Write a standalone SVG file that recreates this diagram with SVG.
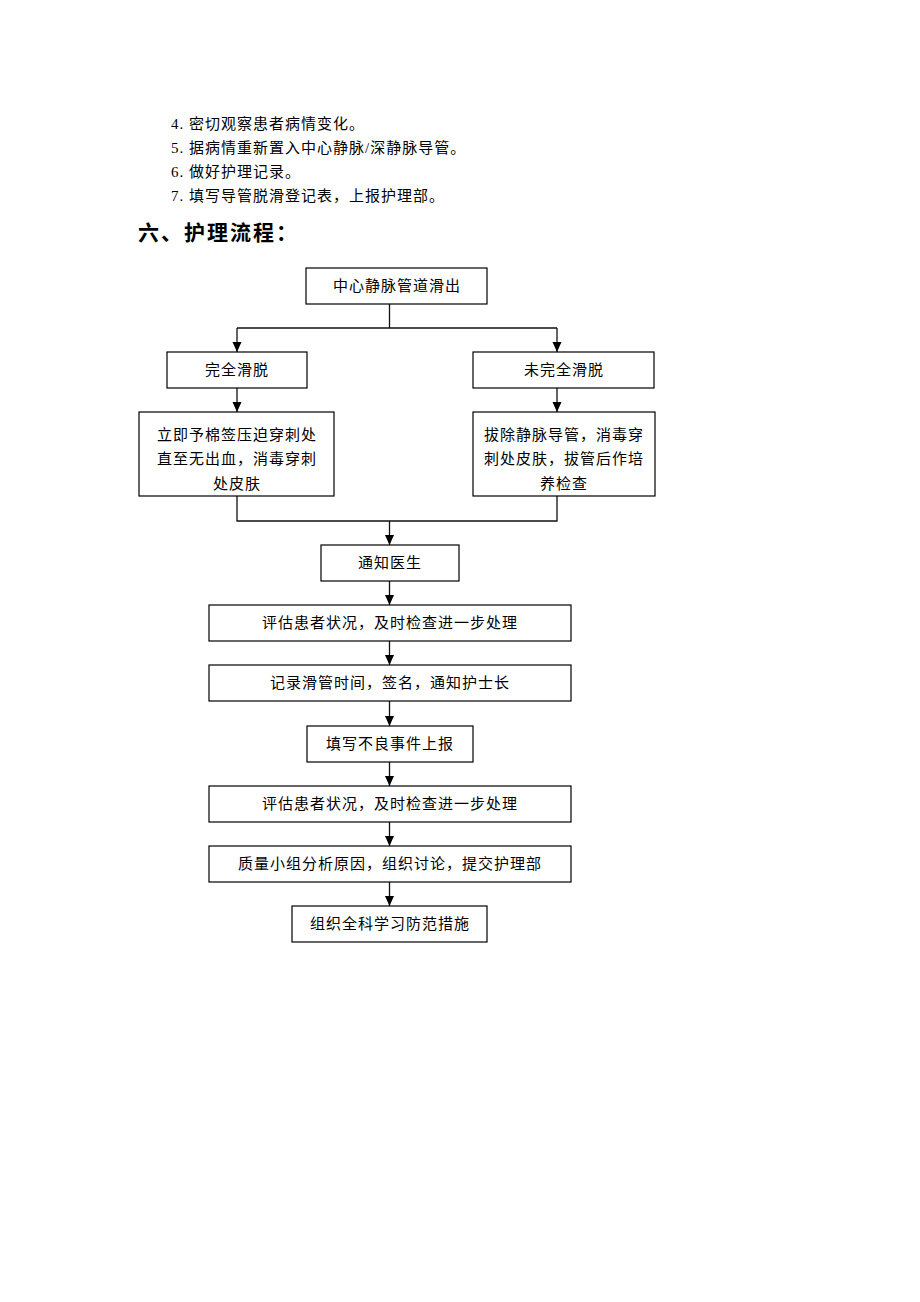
<svg xmlns="http://www.w3.org/2000/svg" width="920" height="1302" viewBox="0 0 920 1302">
<style>
.bg{fill:#fff}
.box{fill:#fff;stroke:#000;stroke-width:1.2}
.t{font-family:"Liberation Serif","Noto Sans CJK SC",serif;font-size:15px;letter-spacing:1px;fill:#000;text-anchor:middle;dominant-baseline:central}
.p{font-family:"Liberation Serif","Noto Sans CJK SC",serif;font-size:15px;letter-spacing:1px;fill:#000}
.h{font-family:"Noto Sans CJK SC",sans-serif;font-size:21px;font-weight:bold;letter-spacing:2px;fill:#000}
.c{fill:none;stroke:#111;stroke-width:1.3}
</style>
<defs>
<marker id="ar" viewBox="0 0 10 10" refX="10" refY="5" markerWidth="10" markerHeight="10" markerUnits="userSpaceOnUse" orient="auto">
<path d="M0,0.5 L10,5 L0,9.5 Z" fill="#000"/>
</marker>
</defs>
<rect class="bg" x="0" y="0" width="920" height="1302"/>
<g id="intro">
<text class="p" x="171" y="129">4. 密切观察患者病情变化。</text>
<text class="p" x="171" y="153">5. 据病情重新置入中心静脉/深静脉导管。</text>
<text class="p" x="171" y="177">6. 做好护理记录。</text>
<text class="p" x="171" y="201">7. 填写导管脱滑登记表，上报护理部。</text>
<text class="h" x="138" y="240">六、护理流程：</text>
</g>
<g id="connectors">
<path class="c" d="M389.5,304 V328 M237,328 H557"/>
<path class="c" d="M237,328 V352" marker-end="url(#ar)"/>
<path class="c" d="M557,328 V352" marker-end="url(#ar)"/>
<path class="c" d="M237,388 V412" marker-end="url(#ar)"/>
<path class="c" d="M557,388 V412" marker-end="url(#ar)"/>
<path class="c" d="M237,496 V521 H557 V496"/>
<path class="c" d="M389.5,521 V545" marker-end="url(#ar)"/>
<path class="c" d="M389.5,581 V605" marker-end="url(#ar)"/>
<path class="c" d="M389.5,641 V665" marker-end="url(#ar)"/>
<path class="c" d="M389.5,701 V726" marker-end="url(#ar)"/>
<path class="c" d="M389.5,762 V786" marker-end="url(#ar)"/>
<path class="c" d="M389.5,822 V846" marker-end="url(#ar)"/>
<path class="c" d="M389.5,882 V906" marker-end="url(#ar)"/>
</g>
<g id="n1"><rect class="box" x="306" y="268" width="181" height="36"/><text class="t" x="397" y="286">中心静脉管道滑出</text></g>
<g id="n2"><rect class="box" x="167" y="352" width="140" height="36"/><text class="t" x="237" y="370">完全滑脱</text></g>
<g id="n3"><rect class="box" x="473" y="352" width="181" height="36"/><text class="t" x="564" y="370">未完全滑脱</text></g>
<g id="n4"><rect class="box" x="139" y="412" width="195" height="84"/>
<text class="t" x="237" y="435">立即予棉签压迫穿刺处</text>
<text class="t" x="237" y="459">直至无出血，消毒穿刺</text>
<text class="t" x="237" y="484">处皮肤</text></g>
<g id="n5"><rect class="box" x="473" y="412" width="182" height="84"/>
<text class="t" x="564" y="435">拔除静脉导管，消毒穿</text>
<text class="t" x="564" y="459">刺处皮肤，拔管后作培</text>
<text class="t" x="564" y="484">养检查</text></g>
<g id="n6"><rect class="box" x="321" y="545" width="138" height="36"/><text class="t" x="390" y="563">通知医生</text></g>
<g id="n7"><rect class="box" x="209" y="605" width="362" height="36"/><text class="t" x="390" y="623">评估患者状况，及时检查进一步处理</text></g>
<g id="n8"><rect class="box" x="209" y="665" width="362" height="36"/><text class="t" x="390" y="683">记录滑管时间，签名，通知护士长</text></g>
<g id="n9"><rect class="box" x="307" y="726" width="166" height="36"/><text class="t" x="390" y="744">填写不良事件上报</text></g>
<g id="n10"><rect class="box" x="209" y="786" width="362" height="36"/><text class="t" x="390" y="804">评估患者状况，及时检查进一步处理</text></g>
<g id="n11"><rect class="box" x="209" y="846" width="362" height="36"/><text class="t" x="390" y="864">质量小组分析原因，组织讨论，提交护理部</text></g>
<g id="n12"><rect class="box" x="292" y="906" width="195" height="36"/><text class="t" x="390" y="924">组织全科学习防范措施</text></g>
</svg>
